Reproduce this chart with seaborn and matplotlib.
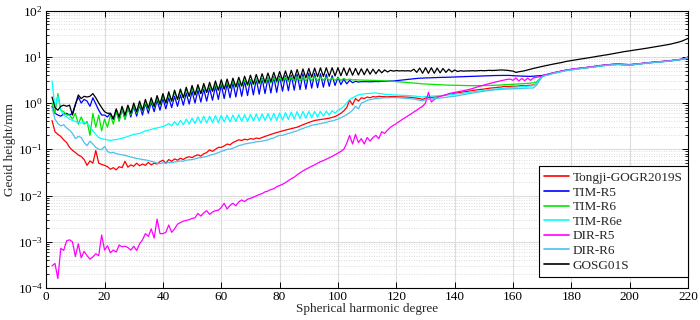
import matplotlib
matplotlib.use("Agg")
import matplotlib.pyplot as plt
import matplotlib.ticker as mticker
import numpy as np
import pandas as pd
import seaborn as sns

# spherical harmonic degree 2..220, geoid height per degree in mm
degrees = np.arange(2, 221)

tongji = [
    0.42, 0.24, 0.21, 0.19, 0.16, 0.14, 0.11, 0.095,
    0.085, 0.075, 0.07, 0.06, 0.045, 0.056, 0.05, 0.094, 0.05, 0.047,
    0.045, 0.042, 0.037, 0.04, 0.036, 0.042, 0.04, 0.055, 0.041, 0.046,
    0.043, 0.05, 0.044, 0.048, 0.045, 0.052, 0.046, 0.05, 0.048, 0.054,
    0.058, 0.05, 0.06, 0.055, 0.062, 0.058, 0.064, 0.06, 0.066, 0.069,
    0.066, 0.072, 0.076, 0.071, 0.08, 0.085, 0.097, 0.09, 0.1, 0.11,
    0.11, 0.118, 0.13, 0.125, 0.14, 0.15, 0.16, 0.155, 0.165, 0.16,
    0.17, 0.165, 0.175, 0.17, 0.18, 0.19, 0.2, 0.21, 0.22, 0.23,
    0.24, 0.25, 0.26, 0.27, 0.28, 0.29, 0.3, 0.32, 0.34, 0.36,
    0.38, 0.4, 0.42, 0.43, 0.44, 0.45, 0.46, 0.47, 0.49, 0.51,
    0.55, 0.6, 0.68, 0.8, 1.15, 0.92, 1.25, 1.1, 1.3, 1.25,
    1.35, 1.3, 1.38, 1.35, 1.4, 1.38, 1.37, 1.36, 1.38, 1.38,
    1.37, 1.36, 1.36, 1.35, 1.34, 1.33, 1.3, 1.28, 1.25, 1.2,
    1.28, 1.3, 1.32, 1.35, 1.38, 1.42, 1.45, 1.5, 1.55, 1.58,
    1.62, 1.66, 1.7, 1.74, 1.78, 1.82, 1.86, 1.9, 1.94, 1.98,
    2.0, 2.05, 2.1, 2.12, 2.15, 2.2, 2.22, 2.3, 2.28, 2.3,
    2.32, 2.3, 2.35, 2.38, 2.36, 2.4, 2.42, 2.45, 2.6, 3.2,
    3.8, 4.0, 4.1, 4.3, 4.5, 4.6, 4.8, 4.9, 5.1, 5.2,
    5.3, 5.4, 5.5, 5.6, 5.7, 5.8, 5.9, 6.0, 6.1, 6.3,
    6.4, 6.5, 6.6, 6.7, 6.8, 6.8, 6.9, 6.8, 6.7, 6.6,
    6.5, 6.7, 6.9, 7.0, 7.1, 7.3, 7.4, 7.5, 7.6, 7.7,
    7.8, 7.9, 8.0, 8.1, 8.2, 8.4, 8.5, 8.7, 8.9, 9.2,
    9.8,
]

tim_r5 = [
    0.85, 0.6, 0.55, 0.52, 0.58, 0.6, 0.55, 0.6,
    0.95, 1.35, 1.0, 1.2, 1.1, 0.85, 1.3, 0.95, 0.7, 0.55,
    0.55, 0.5, 0.6, 0.45, 0.7, 0.42, 0.75, 0.45, 0.8, 0.5,
    0.85, 0.52, 0.9, 0.55, 0.98, 0.6, 1.05, 0.65, 1.15, 0.7,
    1.25, 0.75, 1.3, 0.8, 1.4, 0.85, 1.5, 0.9, 1.65, 0.95,
    1.8, 1.0, 1.9, 1.05, 2.0, 1.1, 2.1, 1.15, 2.3, 1.2,
    2.5, 1.25, 2.6, 1.3, 2.75, 1.35, 2.85, 1.4, 3.0, 1.45,
    3.2, 1.5, 3.3, 1.55, 3.4, 1.6, 3.5, 1.65, 3.7, 1.7,
    3.8, 1.8, 3.9, 1.85, 4.0, 1.9, 4.2, 1.95, 4.3, 2.0,
    4.4, 2.1, 4.4, 2.15, 4.3, 2.2, 4.2, 2.3, 3.9, 2.4,
    3.6, 2.5, 3.3, 2.6, 3.1, 2.75, 2.95, 2.85, 2.9, 2.9,
    2.9, 2.88, 2.9, 2.92, 2.9, 2.95, 2.93, 2.97, 3.0, 3.0,
    3.05, 3.1, 3.15, 3.2, 3.25, 3.3, 3.35, 3.4, 3.45, 3.45,
    3.5, 3.5, 3.52, 3.54, 3.56, 3.58, 3.6, 3.6, 3.62, 3.64,
    3.66, 3.68, 3.7, 3.72, 3.74, 3.76, 3.78, 3.8, 3.82, 3.84,
    3.86, 3.88, 3.9, 3.92, 3.94, 3.95, 3.96, 3.97, 3.96, 3.95,
    3.9, 3.88, 3.85, 3.82, 3.8, 3.78, 3.77, 3.8, 3.85, 3.9,
    3.95, 4.05, 4.2, 4.35, 4.5, 4.65, 4.8, 4.95, 5.1, 5.2,
    5.35, 5.45, 5.55, 5.65, 5.75, 5.85, 5.95, 6.05, 6.2, 6.3,
    6.45, 6.55, 6.65, 6.75, 6.85, 6.9, 6.95, 6.9, 6.85, 6.8,
    6.75, 6.85, 7.0, 7.05, 7.15, 7.3, 7.4, 7.5, 7.6, 7.7,
    7.8, 7.9, 8.0, 8.1, 8.2, 8.4, 8.5, 8.7, 8.9, 9.2,
    9.9,
]

tim_r6 = [
    1.0, 0.6, 1.6, 0.7, 0.65, 0.55, 0.55, 0.45,
    0.6, 0.35, 0.5, 0.35, 0.4, 0.2, 0.6, 0.3, 0.55, 0.25,
    0.45, 0.3, 0.55, 0.35, 0.65, 0.4, 0.75, 0.45, 0.8, 0.55,
    0.9, 0.6, 0.95, 0.65, 1.05, 0.72, 1.15, 0.8, 1.3, 0.9,
    1.45, 1.0, 1.55, 1.1, 1.7, 1.2, 1.8, 1.3, 1.95, 1.4,
    2.1, 1.5, 2.2, 1.6, 2.3, 1.7, 2.4, 1.8, 2.5, 1.9,
    2.7, 2.0, 2.8, 2.1, 2.9, 2.2, 3.0, 2.3, 3.1, 2.4,
    3.2, 2.5, 3.3, 2.6, 3.35, 2.65, 3.4, 2.7, 3.5, 2.8,
    3.55, 2.85, 3.6, 2.9, 3.65, 2.95, 3.7, 3.0, 3.7, 3.0,
    3.75, 3.05, 3.7, 3.05, 3.65, 3.1, 3.6, 3.1, 3.5, 3.1,
    3.45, 3.1, 3.4, 3.15, 3.3, 3.15, 3.2, 3.15, 3.15, 3.12,
    3.12, 3.1, 3.1, 3.08, 3.06, 3.04, 3.02, 3.0, 2.97, 2.94,
    2.9, 2.87, 2.84, 2.8, 2.77, 2.74, 2.7, 2.67, 2.64, 2.6,
    2.58, 2.56, 2.54, 2.52, 2.5, 2.48, 2.46, 2.45, 2.44, 2.43,
    2.42, 2.41, 2.4, 2.39, 2.38, 2.38, 2.37, 2.37, 2.37, 2.38,
    2.38, 2.39, 2.4, 2.41, 2.42, 2.44, 2.46, 2.48, 2.5, 2.52,
    2.54, 2.56, 2.58, 2.6, 2.63, 2.66, 2.7, 2.74, 2.85, 3.3,
    3.75, 4.0, 4.15, 4.3, 4.45, 4.6, 4.75, 4.9, 5.05, 5.15,
    5.25, 5.35, 5.5, 5.6, 5.7, 5.8, 5.9, 6.0, 6.1, 6.25,
    6.4, 6.5, 6.6, 6.7, 6.8, 6.8, 6.85, 6.8, 6.75, 6.7,
    6.6, 6.7, 6.9, 7.0, 7.1, 7.25, 7.35, 7.45, 7.55, 7.65,
    7.75, 7.85, 7.95, 8.05, 8.15, 8.35, 8.45, 8.65, 8.85, 9.1,
    9.6,
]

tim_r6e = [
    3.0, 0.8, 1.4, 0.7, 0.55, 0.5, 0.45, 0.42,
    0.4, 0.38, 0.37, 0.38, 0.36, 0.31, 0.25, 0.21, 0.18, 0.17,
    0.165, 0.16, 0.155, 0.16, 0.162, 0.168, 0.175, 0.18, 0.19, 0.2,
    0.21, 0.215, 0.22, 0.235, 0.25, 0.26, 0.27, 0.28, 0.29, 0.3,
    0.31, 0.33, 0.36, 0.32, 0.4, 0.33, 0.42, 0.34, 0.45, 0.35,
    0.47, 0.36, 0.5, 0.37, 0.52, 0.37, 0.52, 0.38, 0.53, 0.38,
    0.54, 0.39, 0.55, 0.39, 0.55, 0.4, 0.56, 0.4, 0.56, 0.4,
    0.57, 0.41, 0.58, 0.41, 0.58, 0.42, 0.59, 0.42, 0.6, 0.42,
    0.61, 0.43, 0.62, 0.44, 0.64, 0.45, 0.65, 0.46, 0.66, 0.47,
    0.66, 0.48, 0.66, 0.5, 0.66, 0.52, 0.67, 0.55, 0.68, 0.6,
    0.7, 0.75, 0.85, 1.0, 1.2, 1.3, 1.4, 1.5, 1.55, 1.58,
    1.6, 1.62, 1.64, 1.65, 1.62, 1.58, 1.55, 1.53, 1.52, 1.5,
    1.49, 1.48, 1.47, 1.46, 1.45, 1.44, 1.42, 1.4, 1.38, 1.35,
    1.38, 1.4, 1.41, 1.42, 1.43, 1.44, 1.46, 1.48, 1.5, 1.52,
    1.54, 1.57, 1.6, 1.63, 1.66, 1.69, 1.72, 1.76, 1.8, 1.84,
    1.88, 1.92, 1.95, 1.98, 2.0, 2.03, 2.06, 2.1, 2.12, 2.15,
    2.18, 2.2, 2.22, 2.25, 2.28, 2.3, 2.33, 2.36, 2.6, 3.2,
    3.7, 3.9, 4.05, 4.25, 4.4, 4.55, 4.7, 4.85, 5.0, 5.1,
    5.2, 5.3, 5.45, 5.55, 5.65, 5.75, 5.85, 5.95, 6.05, 6.2,
    6.3, 6.4, 6.5, 6.6, 6.7, 6.7, 6.8, 6.75, 6.7, 6.65,
    6.6, 6.7, 6.85, 6.95, 7.05, 7.2, 7.3, 7.4, 7.5, 7.6,
    7.7, 7.8, 7.9, 8.0, 8.1, 8.3, 8.4, 8.6, 8.8, 9.0,
    9.5,
]

dir_r5 = [
    0.0003, 0.00034, 0.00016, 0.00072, 0.00065, 0.00105, 0.0011, 0.001,
    0.00048, 0.0009, 0.00045, 0.00062, 0.0005, 0.00042, 0.00047, 0.00055, 0.0005, 0.0014,
    0.00066, 0.00082, 0.00058, 0.00066, 0.0006, 0.00085, 0.00078, 0.0008, 0.00075, 0.00066,
    0.0008, 0.00065, 0.0009, 0.0011, 0.0015, 0.0013, 0.0019, 0.0012, 0.0031, 0.0015,
    0.0015, 0.0016, 0.0023, 0.0016, 0.0019, 0.0024, 0.0026, 0.0028, 0.0029, 0.003,
    0.0032, 0.0033, 0.0041, 0.0036, 0.0042, 0.0047, 0.0039, 0.0044, 0.0047, 0.0048,
    0.0055, 0.0068, 0.0051, 0.0061, 0.0068, 0.006, 0.0073, 0.008, 0.0074, 0.0083,
    0.0087, 0.0092, 0.0098, 0.0105, 0.011, 0.012, 0.0125, 0.0135, 0.014, 0.0155,
    0.0165, 0.0175, 0.019, 0.021, 0.023, 0.025, 0.028, 0.031, 0.034, 0.037,
    0.04, 0.043, 0.046, 0.05, 0.054, 0.057, 0.061, 0.065, 0.07, 0.076,
    0.082, 0.09, 0.1, 0.135, 0.2, 0.13, 0.21, 0.14, 0.17, 0.13,
    0.18, 0.15, 0.18, 0.2, 0.17, 0.24, 0.22, 0.26, 0.3, 0.33,
    0.36, 0.4, 0.44, 0.48, 0.53, 0.58, 0.64, 0.7, 0.78, 0.85,
    1.0, 1.7, 1.05, 1.2, 1.3, 1.4, 1.45, 1.5, 1.6, 1.65,
    1.7, 1.75, 1.8, 1.85, 1.9, 1.97, 2.05, 2.15, 2.25, 2.35,
    2.45, 2.55, 2.65, 2.75, 2.85, 2.95, 3.05, 3.15, 3.25, 3.3,
    3.1, 3.5, 3.0, 3.4, 3.05, 3.45, 3.1, 3.5, 3.6, 3.7,
    3.85, 4.1, 4.2, 4.4, 4.55, 4.7, 4.85, 5.0, 5.15, 5.25,
    5.4, 5.5, 5.6, 5.7, 5.8, 5.9, 6.0, 6.1, 6.25, 6.35,
    6.5, 6.6, 6.7, 6.8, 6.9, 6.95, 7.0, 6.95, 6.9, 6.85,
    6.8, 6.9, 7.05, 7.1, 7.2, 7.35, 7.45, 7.55, 7.65, 7.75,
    7.85, 7.95, 8.05, 8.15, 8.25, 8.45, 8.55, 8.75, 8.95, 9.3,
    10.0,
]

dir_r6 = [
    0.8, 0.45, 0.36, 0.32, 0.34, 0.29, 0.26, 0.22,
    0.17, 0.19, 0.18, 0.14, 0.12, 0.15, 0.13, 0.11, 0.1, 0.098,
    0.115, 0.09, 0.083, 0.086, 0.08, 0.078, 0.076, 0.074, 0.071, 0.068,
    0.066, 0.063, 0.062, 0.06, 0.059, 0.057, 0.055, 0.053, 0.05, 0.049,
    0.051, 0.05, 0.052, 0.051, 0.053, 0.054, 0.056, 0.055, 0.058, 0.059,
    0.06, 0.062, 0.065, 0.066, 0.068, 0.07, 0.074, 0.077, 0.08, 0.085,
    0.09, 0.094, 0.1, 0.1, 0.106, 0.112, 0.12, 0.124, 0.13, 0.133,
    0.137, 0.14, 0.145, 0.147, 0.15, 0.155, 0.16, 0.17, 0.175, 0.19,
    0.2, 0.2, 0.21, 0.22, 0.23, 0.24, 0.25, 0.27, 0.28, 0.3,
    0.31, 0.33, 0.34, 0.35, 0.36, 0.37, 0.38, 0.4, 0.41, 0.43,
    0.45, 0.48, 0.52, 0.56, 0.62, 0.7, 0.85, 0.75, 1.0, 1.05,
    1.15, 1.18, 1.22, 1.25, 1.27, 1.28, 1.3, 1.3, 1.31, 1.32,
    1.3, 1.3, 1.28, 1.27, 1.26, 1.24, 1.22, 1.18, 1.15, 1.12,
    1.18, 1.2, 1.22, 1.24, 1.26, 1.28, 1.3, 1.33, 1.36, 1.38,
    1.4, 1.44, 1.48, 1.52, 1.56, 1.6, 1.64, 1.68, 1.72, 1.76,
    1.8, 1.84, 1.88, 1.9, 1.93, 1.96, 1.98, 2.0, 2.02, 2.03,
    2.04, 2.05, 2.05, 2.06, 2.07, 2.08, 2.1, 2.12, 2.4, 3.0,
    3.7, 3.95, 4.05, 4.25, 4.45, 4.55, 4.75, 4.85, 5.05, 5.15,
    5.25, 5.35, 5.45, 5.55, 5.65, 5.75, 5.85, 5.95, 6.05, 6.25,
    6.35, 6.45, 6.55, 6.65, 6.75, 6.75, 6.85, 6.8, 6.75, 6.7,
    6.65, 6.75, 6.9, 7.0, 7.1, 7.25, 7.35, 7.45, 7.55, 7.65,
    7.75, 7.85, 7.95, 8.05, 8.15, 8.35, 8.45, 8.65, 8.85, 9.15,
    9.7,
]

gosg01s = [
    1.35, 0.8, 0.7, 0.85, 0.9, 0.85, 0.9, 0.55,
    0.9, 1.5, 1.25, 1.4, 1.35, 1.4, 1.6, 1.3, 1.0, 0.8,
    0.65, 0.6, 0.6, 0.45, 0.75, 0.5, 0.85, 0.55, 0.9, 0.6,
    1.0, 0.65, 1.1, 0.7, 1.2, 0.78, 1.3, 0.85, 1.45, 0.95,
    1.6, 1.0, 1.75, 1.1, 1.9, 1.2, 2.0, 1.3, 2.2, 1.4,
    2.4, 1.5, 2.5, 1.6, 2.65, 1.7, 2.8, 1.8, 3.0, 1.9,
    3.2, 2.0, 3.3, 2.1, 3.45, 2.25, 3.6, 2.35, 3.8, 2.5,
    4.0, 2.6, 4.15, 2.7, 4.3, 2.8, 4.45, 2.9, 4.6, 3.0,
    4.8, 3.1, 4.95, 3.2, 5.1, 3.3, 5.3, 3.4, 5.45, 3.5,
    5.6, 3.6, 5.7, 3.7, 5.75, 3.75, 5.8, 3.8, 5.8, 3.85,
    5.8, 3.9, 5.75, 3.95, 5.7, 4.0, 5.6, 4.05, 5.5, 4.1,
    5.5, 4.2, 5.4, 4.3, 5.3, 4.5, 5.2, 4.7, 5.1, 4.9,
    5.05, 4.95, 5.0, 4.95, 5.0, 4.9, 5.4, 4.6, 5.7, 4.4,
    5.8, 4.4, 5.8, 4.4, 5.7, 4.5, 5.6, 4.6, 5.4, 4.7,
    5.2, 4.8, 5.0, 4.9, 4.95, 4.95, 5.0, 4.95, 5.0, 5.05,
    5.0, 5.05, 5.1, 5.05, 5.1, 5.15, 5.2, 5.15, 5.1, 5.0,
    4.9, 4.6, 4.75, 4.85, 5.0, 5.2, 5.4, 5.6, 5.8, 6.0,
    6.2, 6.4, 6.6, 6.8, 7.0, 7.2, 7.4, 7.6, 7.9, 8.1,
    8.3, 8.5, 8.7, 8.9, 9.1, 9.3, 9.5, 9.8, 10.0, 10.3,
    10.5, 10.8, 11.0, 11.3, 11.6, 11.9, 12.2, 12.6, 12.9, 13.2,
    13.5, 13.8, 14.1, 14.4, 14.7, 15.0, 15.4, 15.8, 16.2, 16.6,
    17.0, 17.4, 17.8, 18.3, 18.8, 19.5, 20.2, 21.0, 22.0, 23.5,
    25.0,
]

models = ['Tongji-GOGR2019S', 'TIM-R5', 'TIM-R6', 'TIM-R6e', 'DIR-R5', 'DIR-R6', 'GOSG01S']
series = [tongji, tim_r5, tim_r6, tim_r6e, dir_r5, dir_r6, gosg01s]
colors = ['#ff0000', '#0000ff', '#00e600', '#00ffff', '#ff00ff', '#4dbfed', '#000000']

rows = []
for name, vals in zip(models, series):
    rows.append(pd.DataFrame({'Degree': degrees, 'Height': vals, 'Model': name}))
df = pd.concat(rows, ignore_index=True)

sns.set_theme(style="ticks")
plt.rcParams['font.family'] = ['Liberation Serif', 'DejaVu Serif']
plt.rcParams['mathtext.fontset'] = 'stix'

fig = plt.figure(figsize=(7, 3.2), dpi=100)
ax = fig.add_axes([0.066, 0.1, 0.917, 0.867])

sns.lineplot(data=df, x='Degree', y='Height', hue='Model', hue_order=models,
             palette=dict(zip(models, colors)), estimator=None, linewidth=0.9, ax=ax)

ax.set_yscale('log')
ax.set_xlim(0, 220)
ax.set_ylim(1e-4, 1e2)
ax.set_xticks(np.arange(0, 221, 20))
ax.yaxis.set_major_locator(mticker.LogLocator(base=10, numticks=10))
ax.yaxis.set_minor_locator(mticker.LogLocator(base=10, subs=np.arange(2, 10), numticks=20))
ax.yaxis.set_minor_formatter(mticker.NullFormatter())

ax.grid(True, which='major', color='#dcdcdc', linewidth=0.8, linestyle='-')
ax.grid(True, which='minor', axis='y', color='#d0d0d0', linewidth=0.6, linestyle=(0, (1, 2)))
ax.set_axisbelow(True)

ax.tick_params(which='both', direction='in', top=True, right=True, colors='black',
               labelsize=9.5, pad=2.5)
ax.tick_params(which='major', length=4, width=0.7)
ax.tick_params(which='minor', length=2, width=0.6)
for sp in ax.spines.values():
    sp.set_color('black')
    sp.set_linewidth(0.8)

ax.set_xlabel('Spherical harmonic degree', fontsize=9.5, labelpad=0)
ax.set_ylabel('Geoid height/mm', fontsize=9.5, labelpad=1)

leg = ax.legend(loc='lower right', bbox_to_anchor=(1.0, 0.04), borderaxespad=0,
                fontsize=9.5, frameon=True, fancybox=False, edgecolor='black',
                framealpha=1, handlelength=1.9, handletextpad=0.3,
                labelspacing=0.18, borderpad=0.4)
leg.get_frame().set_linewidth(0.8)
for line in leg.get_lines():
    line.set_linewidth(1.2)

fig.savefig('out.png', dpi=100)
